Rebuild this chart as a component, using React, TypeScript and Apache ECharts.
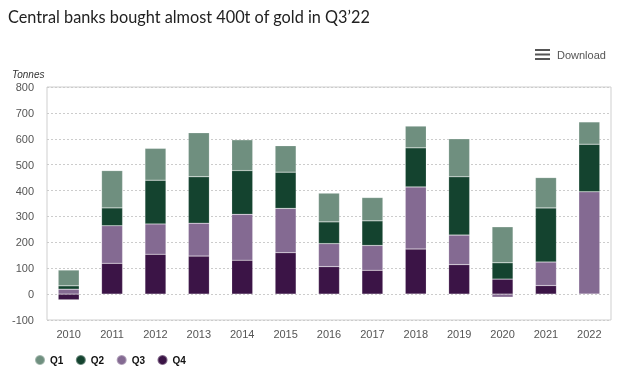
import React, { useEffect, useRef } from "react";
import * as echarts from "echarts";

const years = ["2010","2011","2012","2013","2014","2015","2016","2017","2018","2019","2020","2021","2022"];
const q1 = [61, 144, 123, 170, 119, 102, 111, 90, 84, 147, 139, 117, 86];
const q2 = [13, 69, 169, 179, 169, 140, 84, 95, 151, 225, 63, 209, 184];
const q3 = [19, 145, 117, 127, 177, 171, 89, 96, 240, 114, -12, 91, 395];
const q4 = [-22, 119, 154, 147, 131, 160, 106, 92, 174, 114, 58, 33, null];
const yTicks = { min: -100, max: 800, interval: 100 };

const colors = { Q1: "#6f8f7f", Q2: "#14432f", Q3: "#846a92", Q4: "#3b1446" };

export default function App() {
  const ref = useRef<HTMLDivElement>(null);
  useEffect(() => {
    if (!ref.current) return;
    const chart = echarts.init(ref.current, null, { renderer: "svg" });
    const mk = (name: string, data: (number | null)[]) => ({
      name,
      type: "bar",
      stack: "total",
      data,
      barWidth: 21,
      itemStyle: { color: (colors as any)[name], borderColor: "rgba(255,255,255,0.35)", borderWidth: 0.5 },
    });
    chart.setOption({
      animation: false,
      textStyle: { fontFamily: "Liberation Sans" },
      title: {
        text: "Central banks bought almost 400t of gold in Q3\u201922",
        left: 6,
        top: 6,
        padding: [2, 2],
        textStyle: { fontFamily: "Lato", fontSize: 16.3, fontWeight: "normal", color: "#222" },
      },
      grid: { left: 47, right: 14, top: 87, bottom: 47, show: true, borderColor: "#cfcfcf", borderWidth: 1 },
      xAxis: {
        type: "category",
        data: years,
        axisLine: { show: false },
        axisTick: { show: false },
        axisLabel: { color: "#555", fontSize: 11, margin: 8 },
      },
      yAxis: {
        type: "value",
        min: yTicks.min,
        max: yTicks.max,
        interval: yTicks.interval,
        axisLine: { show: false },
        axisTick: { show: false },
        axisLabel: { color: "#555", fontSize: 11, margin: 13 },
        splitLine: { lineStyle: { color: "#cccccc", type: [2, 2] } },
      },
      legend: {
        data: ["Q1", "Q2", "Q3", "Q4"],
        left: 34,
        top: 354,
        padding: 0,
        icon: "circle",
        itemWidth: 10,
        itemHeight: 10,
        itemGap: 11.5,
        textStyle: { color: "#111", fontWeight: "bold", fontSize: 10 },
      },
      graphic: [
        { type: "text", left: 12, top: 69, style: { text: "Tonnes", fontStyle: "italic", fontSize: 10, fontFamily: "Liberation Sans", fill: "#333" } },
        { type: "rect", shape: { x: 535, y: 49, width: 15, height: 2 }, style: { fill: "#555" } },
        { type: "rect", shape: { x: 535, y: 53.5, width: 15, height: 2 }, style: { fill: "#555" } },
        { type: "rect", shape: { x: 535, y: 58, width: 15, height: 2 }, style: { fill: "#555" } },
        { type: "text", left: 557, top: 49, style: { text: "Download", fontSize: 11, fontFamily: "Liberation Sans", fill: "#555" } },
      ],
      series: [mk("Q4", q4), mk("Q3", q3), mk("Q2", q2), mk("Q1", q1)],
    });
    return () => chart.dispose();
  }, []);
  return <div ref={ref} style={{ position: "fixed", left: 0, top: 0, width: 625, height: 367 }} />;
}
